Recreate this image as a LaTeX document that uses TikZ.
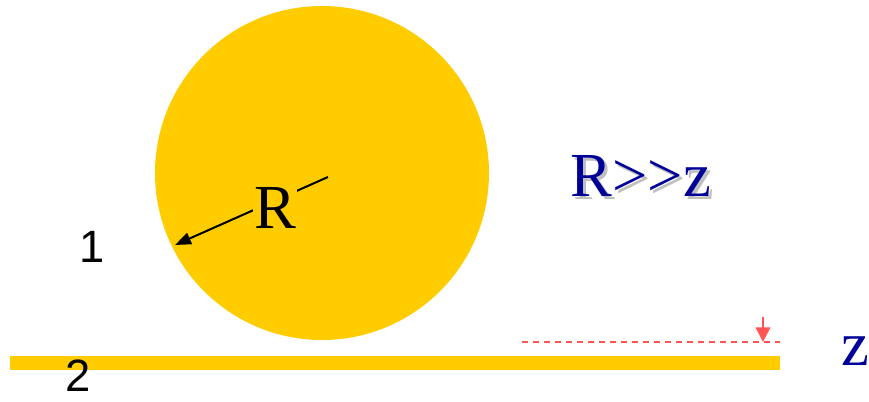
\documentclass[tikz,border=0pt]{standalone}
\usepackage{fontspec}
\setmainfont{Liberation Serif}
\newfontfamily\sansf{Liberation Sans}
\usetikzlibrary{arrows.meta}
\definecolor{gold}{HTML}{FFCC00}
\definecolor{navy}{HTML}{000099}
\definecolor{salmon}{HTML}{FF5555}
\tikzset{
  big/.style={font=\fontsize{47}{50}\selectfont, inner sep=0pt},
  num/.style={font=\sansf\fontsize{34}{36}\selectfont, inner sep=0pt},
}
\begin{document}
\begin{tikzpicture}[x=0.75pt,y=-0.75pt]
\useasboundingbox (0,0) rectangle (869,401);
% sphere
\fill[gold] (322,173) circle[radius=125.25pt];
% plate
\fill[gold] (10,356) rectangle (780,370);
% radius arrow
\coordinate (c) at (328,177);
\coordinate (e) at (175,245);
\draw[line width=1.5pt, -{Triangle[length=12pt,width=9pt]}] (c) -- (e);
\node[big, fill=gold, inner sep=1pt] (R) at (275,208) {R};
% labels
\node[num] (one) at (92,247) {1};
\node[num] (two) at (78,376) {2};
% R>>z with shadow
\node[big, text=navy] (rz) at (641,177)
  {\makebox[0pt][l]{\hspace{2.25pt}\raisebox{-2.25pt}{\color{black!25}R>{}>z}}R>{}>z};
% dashed gap line
\coordinate (d1) at (522,342);
\coordinate (d2) at (780,342);
\draw[salmon, line width=1pt, dash pattern=on 4.5pt off 3.75pt] (d1) -- (d2);
\coordinate (a1) at (763,317);
\coordinate (a2) at (763,342);
\draw[salmon, line width=1.2pt, -{Triangle[length=11pt,width=11pt]}] (a1) -- (a2);
\node[big, text=navy, anchor=base] (z) at (855,365) {z};
\end{tikzpicture}
\end{document}
